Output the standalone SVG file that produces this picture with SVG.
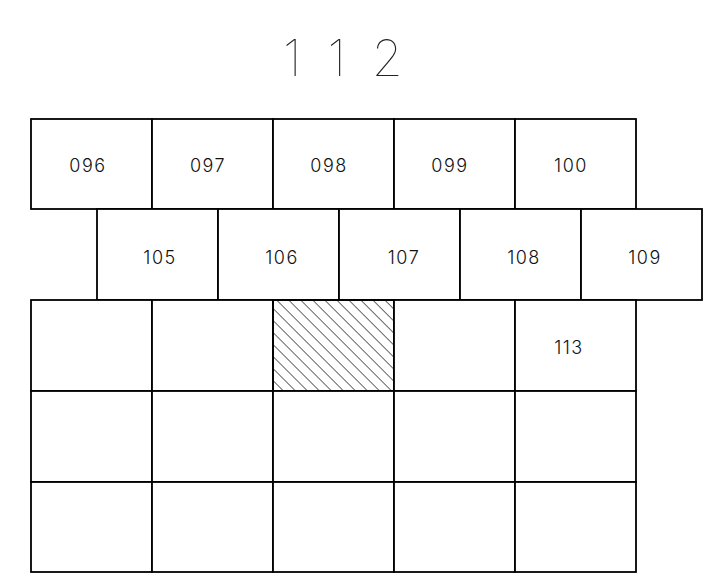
<svg xmlns="http://www.w3.org/2000/svg" width="719" height="576" viewBox="0 0 719 576">
<style>
.c{fill:#fff;stroke:#000;stroke-width:1.8}
.t{font-family:Inter,"DejaVu Sans",sans-serif;font-weight:300;font-size:18px;fill:#111;text-anchor:middle;letter-spacing:1.5px}
.title{font-family:Inter,"DejaVu Sans",sans-serif;font-weight:100;font-size:50px;fill:#222;text-anchor:middle;letter-spacing:26px}
</style>
<defs>
<pattern id="h" width="8.5" height="8.5" patternUnits="userSpaceOnUse" patternTransform="rotate(-45)">
<line x1="0" y1="0" x2="0" y2="8.5" stroke="#000" stroke-width="1.2"/>
</pattern>
</defs>
<rect width="719" height="576" fill="#fff"/>
<text class="title" x="356" y="76">112</text>
<g id="r1">
<g id="n096"><rect class="c" x="31" y="119" width="121" height="90"/><text class="t" x="88" y="172">096</text></g>
<g id="n097"><rect class="c" x="152" y="119" width="121" height="90"/><text class="t" x="208" y="172">097</text></g>
<g id="n098"><rect class="c" x="273" y="119" width="121" height="90"/><text class="t" x="329" y="172">098</text></g>
<g id="n099"><rect class="c" x="394" y="119" width="121" height="90"/><text class="t" x="450" y="172">099</text></g>
<g id="n100"><rect class="c" x="515" y="119" width="121" height="90"/><text class="t" x="571" y="172">100</text></g>
</g>
<g id="r2">
<g id="n105"><rect class="c" x="97" y="209" width="121" height="91"/><text class="t" x="160" y="264">105</text></g>
<g id="n106"><rect class="c" x="218" y="209" width="121" height="91"/><text class="t" x="282" y="264">106</text></g>
<g id="n107"><rect class="c" x="339" y="209" width="121" height="91"/><text class="t" x="404" y="264">107</text></g>
<g id="n108"><rect class="c" x="460" y="209" width="121" height="91"/><text class="t" x="524" y="264">108</text></g>
<g id="n109"><rect class="c" x="581" y="209" width="121" height="91"/><text class="t" x="645" y="264">109</text></g>
</g>
<g id="r3">
<g id="c31"><rect class="c" x="31" y="300" width="121" height="91"/></g>
<g id="c32"><rect class="c" x="152" y="300" width="121" height="91"/></g>
<g id="c33"><rect class="c" x="273" y="300" width="121" height="91"/><rect x="273" y="300" width="121" height="91" fill="url(#h)" stroke="#000" stroke-width="1.8"/></g>
<g id="c34"><rect class="c" x="394" y="300" width="121" height="91"/></g>
<g id="n113"><rect class="c" x="515" y="300" width="121" height="91"/><text class="t" x="569" y="354">113</text></g>
</g>
<g id="r4">
<g id="c41"><rect class="c" x="31" y="391" width="121" height="91"/></g>
<g id="c42"><rect class="c" x="152" y="391" width="121" height="91"/></g>
<g id="c43"><rect class="c" x="273" y="391" width="121" height="91"/></g>
<g id="c44"><rect class="c" x="394" y="391" width="121" height="91"/></g>
<g id="c45"><rect class="c" x="515" y="391" width="121" height="91"/></g>
</g>
<g id="r5">
<g id="c51"><rect class="c" x="31" y="482" width="121" height="90"/></g>
<g id="c52"><rect class="c" x="152" y="482" width="121" height="90"/></g>
<g id="c53"><rect class="c" x="273" y="482" width="121" height="90"/></g>
<g id="c54"><rect class="c" x="394" y="482" width="121" height="90"/></g>
<g id="c55"><rect class="c" x="515" y="482" width="121" height="90"/></g>
</g>
<g id="connectors"/>
</svg>
